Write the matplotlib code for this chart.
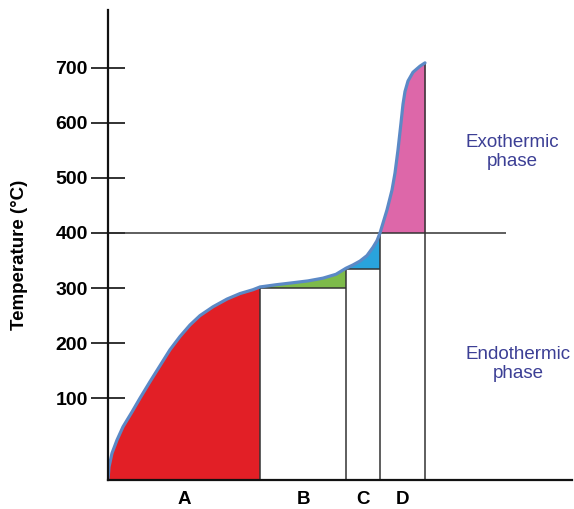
import numpy as np
import matplotlib
matplotlib.use("Agg")
import matplotlib.pyplot as plt

plt.rcParams['font.family'] = ['Liberation Sans', 'DejaVu Sans']

# heating curve (x = time units, T in deg C)
curve_x = [0, 1, 4, 9, 15, 24, 32, 42, 52, 62, 72, 82, 92, 105, 119, 132, 145, 152,
           168, 182, 200, 215, 228, 238, 245, 252, 259, 265, 269, 272,
           279, 284, 287, 290, 293, 295, 297, 300, 305, 312, 317]
curve_T = [-48, -25, 0, 24, 48, 75, 100, 130, 159, 188, 212, 233, 250, 266, 280, 290, 297, 302,
           306, 309, 313, 318, 325, 336, 342, 349, 359, 374, 386, 400,
           442, 478, 509, 551, 600, 634, 657, 676, 692, 703, 709]

# stage boundaries and the step heights of the white boxes
stage_edges = [0, 152, 238, 272, 317]
step_tops = [300, 335, 400]
stage_labels = ["A", "B", "C", "D"]
stage_colors = ["#e21f26", "#7dba4a", "#29a3dc", "#dd67a9"]

phase_line = 400
phase_line_end = 398
y_ticks = [100, 200, 300, 400, 500, 600, 700]
y_bottom, y_top = -48.6, 805
x_right = 464

line_col = "#333333"
curve_col = "#5b89c6"
text_col = "#3c3f95"

fig = plt.figure(figsize=(5.74, 5.09), dpi=100)
ax = fig.add_axes([108 / 574, 29 / 509, 464 / 574, 470 / 509])

x = np.array(curve_x, dtype=float)
T = np.array(curve_T, dtype=float)

# coloured areas
bases = [y_bottom] + step_tops
for i in range(4):
    lo, hi = stage_edges[i], stage_edges[i + 1]
    m = (x >= lo) & (x <= hi)
    ax.fill_between(x[m], T[m], bases[i], color=stage_colors[i], lw=0, zorder=1)

# white boxes
for i in range(1, 4):
    ax.fill_between([stage_edges[i], stage_edges[i + 1]], y_bottom, step_tops[i - 1],
                    color="white", lw=0, zorder=1.5)

ax.plot(x, T, color=curve_col, lw=2.3, zorder=3, solid_capstyle="round",
        solid_joinstyle="round")

# box outlines
ax.vlines(stage_edges[1], y_bottom, step_tops[0], color=line_col, lw=1.1, zorder=2)
ax.hlines(step_tops[0], stage_edges[1], stage_edges[2], color=line_col, lw=1.1, zorder=2)
ax.vlines(stage_edges[2], y_bottom, step_tops[1], color=line_col, lw=1.1, zorder=2)
ax.hlines(step_tops[1], stage_edges[2], stage_edges[3], color=line_col, lw=1.1, zorder=2)
ax.vlines(stage_edges[3], y_bottom, phase_line, color=line_col, lw=1.1, zorder=2)
ax.vlines(stage_edges[4], y_bottom, curve_T[-1], color=line_col, lw=1.1, zorder=2)
ax.hlines(phase_line, 0, phase_line_end, color=line_col, lw=1.1, zorder=2)

ax.set_xlim(0, x_right)
ax.set_ylim(y_bottom, y_top)
for s in ["top", "right"]:
    ax.spines[s].set_visible(False)
for s in ["left", "bottom"]:
    ax.spines[s].set_linewidth(1.6)
    ax.spines[s].set_color("#111111")
    ax.spines[s].set_zorder(4)

ax.set_xticks([])
ax.set_yticks(y_ticks)
ax.set_yticklabels([str(v) for v in y_ticks], fontsize=14, fontweight="bold")
ax.tick_params(axis="y", direction="inout", length=25, width=1.3, pad=2, color="#222222")

fig.text(20 / 574, 1 - 255 / 509, "Temperature (°C)", rotation=90, ha="center",
         va="center", fontsize=13.5, fontweight="bold")

for i, lab in enumerate(stage_labels):
    xm = (stage_edges[i] + stage_edges[i + 1]) / 2
    ax.text(xm, -0.042, lab, transform=ax.get_xaxis_transform(), ha="center",
            va="center", fontsize=13.5, fontweight="bold")

ax.text(404, 547, "Exothermic\nphase", ha="center", va="center", fontsize=13.5,
        color=text_col, linespacing=1.1)
ax.text(410, 162, "Endothermic\nphase", ha="center", va="center", fontsize=13.5,
        color=text_col, linespacing=1.1)

fig.savefig("out.png", dpi=100)
